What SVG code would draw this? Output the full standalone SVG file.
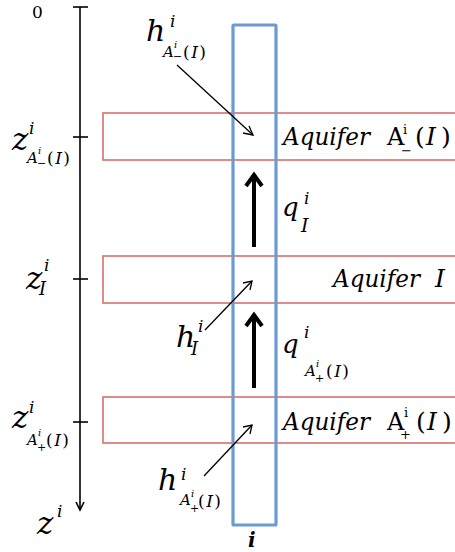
<svg xmlns="http://www.w3.org/2000/svg" width="455" height="552" viewBox="0 0 455 552">
<style>
.aq{fill:none;stroke:#d6706b;stroke-width:1.6}
.col{fill:none;stroke:#6b9bd1;stroke-width:3.2}
.ax{stroke:#000;stroke-width:1.6;fill:none}
.thin{stroke:#000;stroke-width:1.3;fill:none}
.thick{stroke:#000;stroke-width:4;fill:none}
</style>
<rect width="455" height="552" fill="#fff"/>
<g font-family="DejaVu Serif, Times New Roman, serif" fill="#000">
<g id="axis">
<line class="ax" x1="80" y1="7" x2="80" y2="509"/>
<line class="ax" x1="73" y1="7" x2="88" y2="7"/>
<line class="ax" x1="73" y1="137" x2="88" y2="137"/>
<line class="ax" x1="73" y1="279" x2="88" y2="279"/>
<line class="ax" x1="73" y1="422" x2="88" y2="422"/>
<polyline class="ax" points="76,502 80,510 84,502"/>
<text x="32" y="18" font-size="17">0</text>
</g>
<g id="aquifer-minus">
<rect class="aq" x="103" y="113" width="360" height="47"/>
<text font-style="italic" font-size="25"><tspan x="283" y="145" textLength="87" lengthAdjust="spacingAndGlyphs">Aquifer</tspan><tspan font-style="normal" x="387" y="145" font-size="24">A</tspan><tspan font-style="normal" x="403" y="134" font-size="13">i</tspan><tspan font-style="normal" x="401" y="155" font-size="13">−</tspan><tspan font-style="normal" x="415" y="145">(</tspan><tspan x="426">I</tspan><tspan font-style="normal" x="441">)</tspan></text>
</g>
<g id="aquifer-I">
<rect class="aq" x="103" y="256" width="360" height="47"/>
<text font-style="italic" font-size="25"><tspan x="333" y="287" textLength="87" lengthAdjust="spacingAndGlyphs">Aquifer</tspan><tspan x="435" y="287">I</tspan></text>
</g>
<g id="aquifer-plus">
<rect class="aq" x="103" y="397" width="360" height="46"/>
<text font-style="italic" font-size="25"><tspan x="283" y="430" textLength="87" lengthAdjust="spacingAndGlyphs">Aquifer</tspan><tspan font-style="normal" x="387" y="430" font-size="24">A</tspan><tspan font-style="normal" x="404" y="417" font-size="13">i</tspan><tspan font-style="normal" x="400" y="439" font-size="13">+</tspan><tspan font-style="normal" x="416" y="430">(</tspan><tspan x="427">I</tspan><tspan font-style="normal" x="442">)</tspan></text>
</g>
<g id="column">
<rect class="col" x="233" y="25" width="43" height="500" rx="1"/>
<text x="248" y="547" font-size="20" font-weight="bold" font-style="italic">i</text>
</g>
<g id="z-labels" font-style="italic">
<text font-size="31"><tspan x="12" y="150">z</tspan><tspan x="29" y="134" font-size="17">i</tspan><tspan x="27" y="163" font-size="15">A</tspan><tspan x="38" y="154" font-size="10">i</tspan><tspan font-style="normal" x="37" y="167" font-size="11">−</tspan><tspan font-style="normal" x="47" y="164" font-size="17" letter-spacing="1.5">(</tspan><tspan font-size="17" letter-spacing="1.5">I</tspan><tspan font-style="normal" font-size="17">)</tspan></text>
<text font-size="31"><tspan x="26" y="289">z</tspan><tspan x="44" y="271" font-size="17">i</tspan><tspan x="39" y="295" font-size="18">I</tspan></text>
<text font-size="31"><tspan x="12" y="428">z</tspan><tspan x="29" y="413" font-size="17">i</tspan><tspan x="27" y="445" font-size="15">A</tspan><tspan x="38" y="436" font-size="10">i</tspan><tspan font-style="normal" x="37" y="451" font-size="11">+</tspan><tspan font-style="normal" x="46" y="446" font-size="17" letter-spacing="1.5">(</tspan><tspan font-size="17" letter-spacing="1.5">I</tspan><tspan font-style="normal" font-size="17">)</tspan></text>
<text font-size="31"><tspan x="37" y="534">z</tspan><tspan x="57" y="517" font-size="17">i</tspan></text>
</g>
<g id="h-labels" font-style="italic">
<text font-size="30"><tspan x="146" y="41">h</tspan><tspan x="170" y="27" font-size="17">i</tspan><tspan x="163" y="57" font-size="15">A</tspan><tspan x="174" y="48" font-size="10">i</tspan><tspan font-style="normal" x="173" y="60" font-size="11">−</tspan><tspan font-style="normal" x="183" y="58" font-size="17" letter-spacing="1.5">(</tspan><tspan font-size="17" letter-spacing="1.5">I</tspan><tspan font-style="normal" font-size="17">)</tspan></text>
<text font-size="30"><tspan x="176" y="347">h</tspan><tspan x="198" y="332" font-size="17">i</tspan><tspan x="191" y="355" font-size="18">I</tspan></text>
<text font-size="30"><tspan x="158" y="490">h</tspan><tspan x="181" y="480" font-size="17">i</tspan><tspan x="180" y="505" font-size="15">A</tspan><tspan x="191" y="497" font-size="10">i</tspan><tspan font-style="normal" x="190" y="512" font-size="11">+</tspan><tspan font-style="normal" x="198" y="507" font-size="17" letter-spacing="1.5">(</tspan><tspan font-size="17" letter-spacing="1.5">I</tspan><tspan font-style="normal" font-size="17">)</tspan></text>
</g>
<g id="q-labels" font-style="italic">
<text font-size="26"><tspan x="282" y="216">q</tspan><tspan x="304" y="204" font-size="17">i</tspan><tspan x="301" y="232" font-size="19">I</tspan></text>
<text font-size="26"><tspan x="282" y="353">q</tspan><tspan x="304" y="338" font-size="17">i</tspan><tspan x="305" y="376" font-size="15">A</tspan><tspan x="316" y="367" font-size="10">i</tspan><tspan font-style="normal" x="315" y="382" font-size="11">+</tspan><tspan font-style="normal" x="326" y="377" font-size="17" letter-spacing="1.5">(</tspan><tspan font-size="17" letter-spacing="1.5">I</tspan><tspan font-style="normal" font-size="17">)</tspan></text>
</g>
</g>
<g id="connectors">
<line class="thin" x1="177" y1="65" x2="253" y2="135"/>
<polyline class="thin" points="243,133 253,135 249,126"/>
<line class="thin" x1="205" y1="330" x2="252" y2="281"/>
<polyline class="thin" points="243,283 252,281 250,290"/>
<line class="thin" x1="204" y1="476" x2="252" y2="425"/>
<polyline class="thin" points="243,427 252,425 250,434"/>
<line class="thick" x1="254" y1="247" x2="254" y2="175"/>
<polyline class="thick" points="246,186 254,175 262,186"/>
<line class="thick" x1="254" y1="388" x2="254" y2="315"/>
<polyline class="thick" points="246,326 254,315 262,326"/>
</g>
</svg>
